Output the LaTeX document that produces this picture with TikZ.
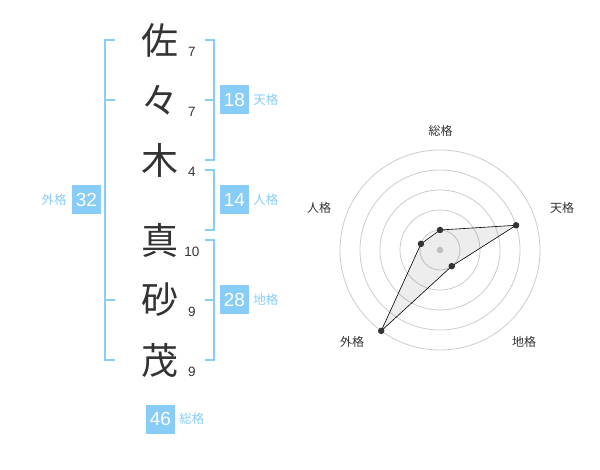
\documentclass[tikz,border=0pt]{standalone}
\usepackage{fontspec}
\setmainfont{Liberation Sans}
\newfontfamily\jp{Noto Sans CJK JP}
\usetikzlibrary{calc,positioning}

\definecolor{kakublue}{HTML}{88CCF8}
\definecolor{inkgray}{HTML}{333333}
\definecolor{ringgray}{HTML}{CCCCCC}

\tikzset{
	bracket/.style={draw=kakublue, line width=2pt},
	kanji/.style={text=inkgray, inner sep=0pt, font=\jp\fontsize{37}{37}\selectfont},
	kakusu/.style={text=inkgray, inner sep=0pt, font=\fontsize{13.5}{13.5}\selectfont},
	kakubox/.style={fill=kakublue, text=white, minimum width=29pt, minimum height=29pt, inner sep=0pt, font=\fontsize{19}{19}\selectfont},
	kakulabel/.style={text=kakublue, inner sep=0pt, font=\jp\fontsize{12.5}{12.5}\selectfont},
	ring/.style={draw=ringgray, line width=0.8pt},
	axislabel/.style={text=inkgray, inner sep=0pt, font=\jp\fontsize{12}{12}\selectfont},
	dot/.style={circle, fill=inkgray, inner sep=0pt, minimum size=6.5pt}
}

\begin{document}
\begin{tikzpicture}[x=1pt, y=-1pt]
				\useasboundingbox (0,0) rectangle (600,470);
				
				% name
				\node[kanji] (k1) at (160,40) {佐};
				\node[kanji] (k2) at (160,100) {々};
				\node[kanji] (k3) at (160,160) {木};
				\node[kanji] (k4) at (160,240) {真};
				\node[kanji] (k5) at (160,300) {砂};
				\node[kanji] (k6) at (160,360) {茂};
				
				\node[kakusu] (s1) at (192,52) {7};
				\node[kakusu] (s2) at (192,112) {7};
				\node[kakusu] (s3) at (192,172) {4};
				\node[kakusu] (s4) at (192,252) {10};
				\node[kakusu] (s5) at (192,312) {9};
				\node[kakusu] (s6) at (192,372) {9};
				
				% brackets
				\draw[bracket] (115,40) -- (105,40) -- (105,360) -- (115,360);
				\draw[bracket] (105,100) -- (115,100);
				\draw[bracket] (105,300) -- (115,300);
				
				\draw[bracket] (205,40) -- (214,40) -- (214,160) -- (205,160);
				\draw[bracket] (205,100) -- (214,100);
				
				\draw[bracket] (205,170) -- (214,170) -- (214,230) -- (205,230);
				
				\draw[bracket] (205,240) -- (214,240) -- (214,360) -- (205,360);
				\draw[bracket] (205,300) -- (214,300);
				
				% kaku
				\node[kakubox] (ten) at (234.5,100) {18};
				\node[kakulabel, right=4pt of ten] (tenl) {天格};
				\node[kakubox] (jin) at (234.5,200) {14};
				\node[kakulabel, right=4pt of jin] (jinl) {人格};
				\node[kakubox] (chi) at (234.5,300) {28};
				\node[kakulabel, right=4pt of chi] (chil) {地格};
				\node[kakubox] (gai) at (86.5,200) {32};
				\node[kakulabel, left=5pt of gai] (gail) {外格};
				\node[kakubox] (so) at (160.5,419) {46};
				\node[kakulabel, right=4pt of so] (sol) {総格};
				
				% radar
				\coordinate (o) at (440,250);
				\foreach \r in {20,40,60,80,100}
					\draw[ring] (o) circle (\r pt);
				\fill[ringgray] (o) circle (3.2pt);
				
				\coordinate (p1) at ($(o)+(-90:20)$);
				\coordinate (p2) at ($(o)+(-18:80)$);
				\coordinate (p3) at ($(o)+(54:20)$);
				\coordinate (p4) at ($(o)+(126:100)$);
				\coordinate (p5) at ($(o)+(198:20)$);
				\draw[fill=black, fill opacity=0.07, draw opacity=1, line width=0.6pt] (p1) -- (p2) -- (p3) -- (p4) -- (p5) -- cycle;
				\foreach \i in {1,...,5}
					\node[dot] (d\i) at (p\i) {};
				
				\node[axislabel] (a1) at ($(o)+(0.7,-119.3)$) {総格};
				\node[axislabel] (a2) at ($(o)+(122,-42)$) {天格};
				\node[axislabel] (a3) at ($(o)+(84,92)$) {地格};
				\node[axislabel] (a4) at ($(o)+(-88,92)$) {外格};
				\node[axislabel] (a5) at ($(o)+(-121,-42)$) {人格};
			\end{tikzpicture}
\end{document}
